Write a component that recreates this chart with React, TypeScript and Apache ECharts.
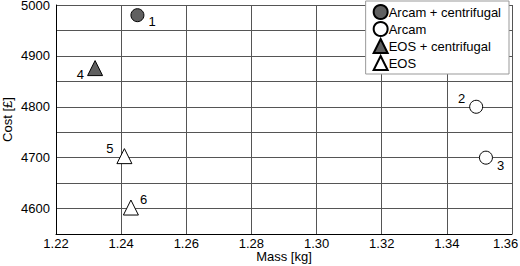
import React, { useEffect, useRef } from "react";
import * as echarts from "echarts";

const seriesNames = ["Arcam + centrifugal", "Arcam", "EOS + centrifugal", "EOS"];
const arcamCentrifugal = [[1.245, 4980]];
const arcamCentrifugalIds = ["1"];
const arcam = [[1.349, 4800], [1.352, 4700]];
const arcamIds = ["2", "3"];
const eosCentrifugal = [[1.232, 4876]];
const eosCentrifugalIds = ["4"];
const eos = [[1.241, 4703], [1.243, 4602]];
const eosIds = ["5", "6"];
const xTicks = [1.22, 1.24, 1.26, 1.28, 1.3, 1.32, 1.34, 1.36];

const labelPos: Record<string, { position: string; offset: number[] }> = {
  "1": { position: "right", offset: [-1, 6] },
  "2": { position: "left", offset: [1, -8] },
  "3": { position: "right", offset: [-1, 8] },
  "4": { position: "left", offset: [2, 6] },
  "5": { position: "left", offset: [2, -8] },
  "6": { position: "right", offset: [-4, -8] },
};

const font = "Liberation Sans, Arial, sans-serif";

function mk(name: string, data: number[][], ids: string[], symbol: string, size: number, fill: string) {
  return {
    name,
    type: "scatter",
    symbol,
    symbolSize: size,
    itemStyle: { color: fill, borderColor: "#000", borderWidth: 1, opacity: 1 },
    data: data.map((d, i) => ({
      value: d,
      name: ids[i],
      label: {
        show: true,
        formatter: ids[i],
        position: labelPos[ids[i]].position,
        offset: labelPos[ids[i]].offset,
        color: "#000",
        fontSize: 13,
        fontFamily: font,
      },
    })),
  };
}

export default function App() {
  const ref = useRef<HTMLDivElement>(null);
  useEffect(() => {
    const chart = echarts.init(ref.current!, undefined, { renderer: "svg" });
    chart.setOption({
      animation: false,
      backgroundColor: "#fff",
      grid: { left: 56, right: 8, top: 5, bottom: 32, containLabel: false, outerBoundsMode: "none" },
      xAxis: {
        type: "value",
        min: 1.22,
        max: 1.36,
        interval: 0.02,
        name: "Mass [kg]",
        nameLocation: "middle",
        nameGap: 16,
        nameMoveOverlap: false,
        nameTextStyle: { color: "#000", fontSize: 13, lineHeight: 13, fontFamily: font },
        axisLine: { lineStyle: { color: "#000", width: 1 } },
        axisTick: { show: false },
        axisLabel: {
          color: "#000",
          fontSize: 13,
          lineHeight: 13,
          fontFamily: font,
          margin: 3,
          formatter: (v: number) => {
            const t = xTicks.find((x) => Math.abs(x - v) < 1e-6);
            if (t === undefined) return "";
            const s = t.toFixed(2);
            return t === xTicks[xTicks.length - 1] ? "{last|" + s + "}" : s;
          },
          rich: {
            last: { color: "#000", fontSize: 13, lineHeight: 13, fontFamily: font, width: 38, align: "left" },
          },
        },
        splitLine: { show: true, lineStyle: { color: "#555", width: 1 } },
      },
      yAxis: {
        type: "value",
        min: 4550,
        max: 5000,
        interval: 50,
        name: "Cost [£]",
        nameLocation: "middle",
        nameGap: 42,
        nameMoveOverlap: false,
        nameTextStyle: { color: "#000", fontSize: 13, fontFamily: font },
        axisLine: { show: true, lineStyle: { color: "#000", width: 1 } },
        axisTick: { show: false },
        axisLabel: {
          color: "#000",
          fontSize: 13,
          lineHeight: 10,
          padding: [2, 0, 0, 0],
          fontFamily: font,
          margin: 6,
          formatter: (v: number) => (Math.round(v) % 100 === 0 ? String(Math.round(v)) : ""),
        },
        splitLine: { show: true, lineStyle: { color: "#555", width: 1 } },
      },
      legend: {
        data: seriesNames,
        orient: "vertical",
        right: 11,
        top: 1,
        itemWidth: 14,
        itemHeight: 14,
        itemGap: 1,
        padding: [3, 8, 3, 7],
        backgroundColor: "#fff",
        borderColor: "#999",
        borderWidth: 1,
        textStyle: { color: "#000", fontSize: 13, lineHeight: 14, fontFamily: font, padding: [0, 0, 0, -4] },
      },
      series: [
        mk(seriesNames[0], arcamCentrifugal, arcamCentrifugalIds, "circle", 13, "#606060"),
        mk(seriesNames[1], arcam, arcamIds, "circle", 13, "#fff"),
        mk(seriesNames[2], eosCentrifugal, eosCentrifugalIds, "triangle", 15, "#606060"),
        mk(seriesNames[3], eos, eosIds, "triangle", 15, "#fff"),
      ],
    });
    return () => chart.dispose();
  }, []);
  return (
    <div
      ref={ref}
      style={{ position: "fixed", left: 0, top: 0, width: 520, height: 266 }}
    />
  );
}
